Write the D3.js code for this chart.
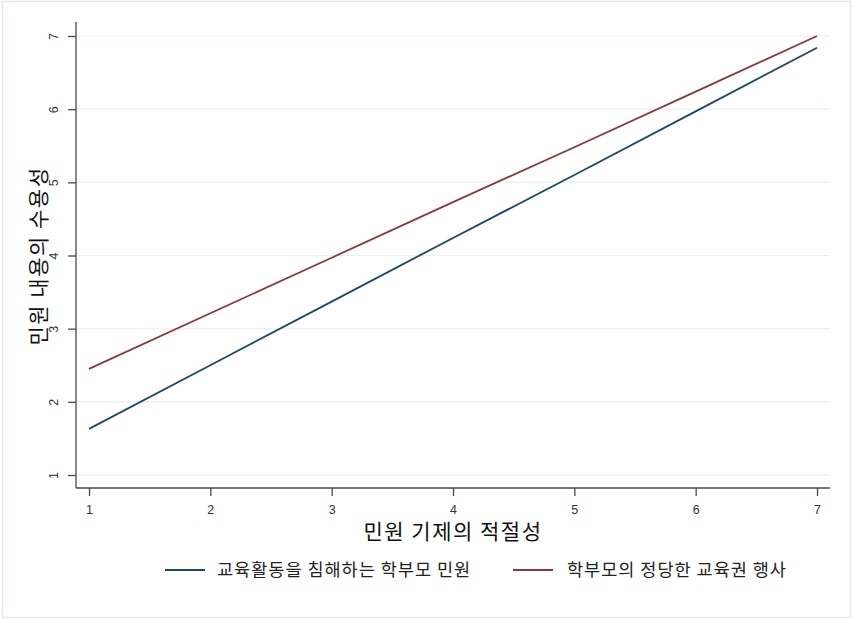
<!DOCTYPE html>
<html><head><meta charset="utf-8">
<script src="https://cdn.jsdelivr.net/npm/d3@7"></script>
<style>
body{margin:0;background:#fff;}
svg{display:block;}
text{font-family:"Liberation Sans","Noto Sans CJK KR",Arial,sans-serif;}
.kr{font-family:"Noto Sans CJK KR","Liberation Sans",sans-serif;}
</style></head><body>
<svg id="c" width="853" height="620"></svg>
<script>
const xValues = [1, 2, 3, 4, 5, 6, 7];
const seriesNames = ["교육활동을 침해하는 학부모 민원", "학부모의 정당한 교육권 행사"];
const blueValues = [1.63, 2.50, 3.37, 4.24, 5.10, 5.97, 6.84];
const redValues = [2.45, 3.21, 3.97, 4.73, 5.48, 6.24, 7.00];
const xTicks = [1, 2, 3, 4, 5, 6, 7];
const yTicks = [1, 2, 3, 4, 5, 6, 7];
const xTitle = "민원 기제의 적절성";
const yTitle = "민원 내용의 수용성";
const colors = ["#1a476f", "#90353b"];

const svg = d3.select("#c");
svg.append("rect").attr("x",2.5).attr("y",1.5).attr("width",848).attr("height",616)
  .attr("fill","#fff").attr("stroke","#e3e8ec").attr("stroke-width",1.5);

const x = d3.scaleLinear().domain([1,7]).range([89,817]);
const y = d3.scaleLinear().domain([1,7]).range([475,36]);
const axX0 = 76, axX1 = 830, axY = 488, axYTop = 22;

// gridlines
svg.append("g").selectAll("line").data(yTicks).join("line")
  .attr("x1",axX0).attr("x2",axX1).attr("y1",d=>y(d)).attr("y2",d=>y(d))
  .attr("stroke","#eaf0f3").attr("stroke-width",1.2);

// y axis
const ya = svg.append("g").attr("transform",`translate(${axX0},0)`)
  .call(d3.axisLeft(y).tickValues(yTicks).tickSize(8).tickPadding(0).tickFormat(d3.format("d")));
ya.select(".domain").attr("d",`M0,${axYTop}V${axY}`).attr("stroke","#4a4a4a").attr("stroke-width",1.3);
ya.selectAll(".tick line").attr("stroke","#4a4a4a").attr("stroke-width",1.3);
ya.selectAll(".tick text").attr("transform","rotate(-90)").attr("x",0).attr("y",-21)
  .attr("text-anchor","middle").attr("dy","0").attr("font-size",12.5).attr("fill","#333")
  .attr("dominant-baseline","middle");

// x axis
const xa = svg.append("g").attr("transform",`translate(0,${axY})`)
  .call(d3.axisBottom(x).tickValues(xTicks).tickSize(8).tickPadding(9).tickFormat(d3.format("d")));
xa.select(".domain").attr("d",`M${axX0},0H${axX1}`).attr("stroke","#4a4a4a").attr("stroke-width",1.3);
xa.selectAll(".tick line").attr("stroke","#4a4a4a").attr("stroke-width",1.3);
xa.selectAll(".tick text").attr("font-size",12.5).attr("fill","#333");

// lines
const line = d3.line().x((d,i)=>x(xValues[i])).y(d=>y(d));
[blueValues, redValues].forEach((vals,k)=>{
  svg.append("path").datum(vals).attr("d",line).attr("fill","none")
    .attr("stroke",colors[k]).attr("stroke-width",1.8);
});

// titles
svg.append("text").attr("class","kr").attr("x",453).attr("y",539).attr("text-anchor","middle")
  .attr("font-size",21).attr("letter-spacing",1.5).attr("fill","#111").text(xTitle);
svg.append("text").attr("class","kr").attr("transform","translate(46,256) rotate(-90)")
  .attr("text-anchor","middle").attr("font-size",21).attr("letter-spacing",1.5).attr("fill","#111").text(yTitle);

// legend
const legX = [165, 513], legTextX = [217, 567], legY = 570;
seriesNames.forEach((n,k)=>{
  svg.append("line").attr("x1",legX[k]).attr("x2",legX[k]+40).attr("y1",legY).attr("y2",legY)
    .attr("stroke",colors[k]).attr("stroke-width",1.8);
  svg.append("text").attr("class","kr").attr("x",legTextX[k]).attr("y",legY).attr("dy","0.35em")
    .attr("font-size",17.5).attr("letter-spacing",1).attr("fill","#222").text(n);
});
</script></body></html>
